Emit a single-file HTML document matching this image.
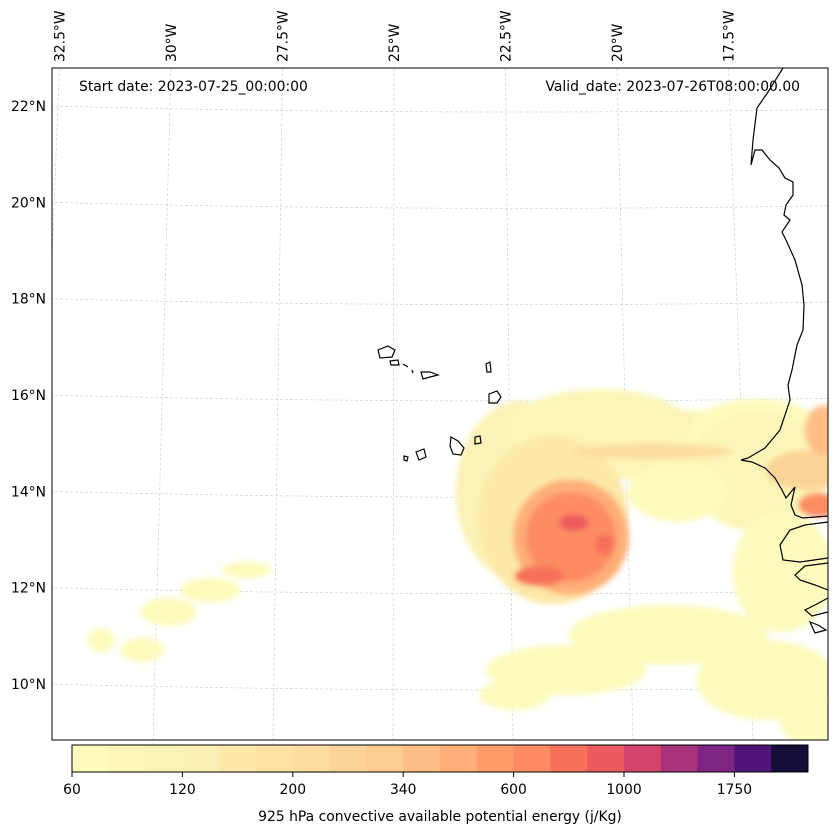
<!DOCTYPE html>
<html><head><meta charset="utf-8"><style>
body{margin:0;background:#fff;font-family:"DejaVu Sans","Liberation Sans",sans-serif;}
svg text{font-family:"DejaVu Sans","Liberation Sans",sans-serif;}
</style></head><body>
<svg id="chart" width="837" height="836" viewBox="0 0 837 836" xmlns="http://www.w3.org/2000/svg">
<defs>
<clipPath id="mapclip"><rect x="52" y="68" width="776" height="672"/></clipPath>
<filter id="soft" x="-20%" y="-20%" width="140%" height="140%"><feGaussianBlur stdDeviation="3"/></filter>
</defs>
<rect x="0" y="0" width="837" height="836" fill="#fff"/>
<g id="grid" clip-path="url(#mapclip)"></g>
<g id="field" clip-path="url(#mapclip)"></g>
<g id="coast" clip-path="url(#mapclip)" fill="none" stroke="#000" stroke-width="1.2">
<path d="M783,68 L768,92 L757,108 L753,140 L751,165 L755,150 L762,150 L770,160 L779,168 L785,178 L793,182 L793,195 L786,205 L784,215 L790,220 L782,232 L786,240 L795,260 L802,285 L804,305 L803,330 L797,345 L792,370 L788,385 L790,400 L780,430 L765,448 L748,458 L741,460 L752,462 L765,468 L775,478 L782,490 L786,498 L795,487 L791,505 L795,515 L803,518 L828,516"/>
<path d="M828,522 L805,525 L790,530 L780,545 L783,560 L800,562 L828,558 M828,563 L805,566 L795,575 L800,580 L815,585 L828,590 M828,598 L815,605 L805,610 L812,616 L828,612 M810,622 L818,625 L826,630 L815,633 Z"/>
<path d="M378,350 L388,346 L395,350 L392,357 L380,358 Z M390,361 L398,360 L399,365 L391,365 Z M403,364 L408,367 M412,370 L413,373 M421,372 L430,372 L438,375 L430,377 L423,379 Z M486,364 L490,362 L491,372 L487,372 Z M489,394 L497,391 L501,397 L497,403 L489,403 Z M451,437 L458,441 L464,448 L461,455 L453,454 L450,446 Z M416,452 L424,449 L426,457 L419,460 Z M404,456 L408,457 L407,461 L404,460 Z M475,437 L480,436 L481,443 L475,444 Z"/>
</g>
<rect x="52" y="68" width="776" height="672" fill="none" stroke="#000" stroke-width="1"/>
<g id="latlabels" font-size="13.9" fill="#000" text-anchor="end"></g>
<g id="lonlabels" font-size="13.9" fill="#000"></g>
<text x="79" y="91" font-size="13.9">Start date: 2023-07-25_00:00:00</text>
<text x="800" y="91" font-size="13.9" text-anchor="end">Valid_date: 2023-07-26T08:00:00.00</text>
<g id="cbar"></g>
<text x="440" y="821" font-size="13.9" text-anchor="middle">925 hPa convective available potential energy (j/Kg)</text>
</svg>
<script>
const levels=[60,80,100,120,147,173,200,247,293,340,427,513,600,733,867,1000,1250,1500,1750,2000];
const colors=["#fcfbbb","#fbf6b8","#fbf2b6","#fbefb3","#fce8a8","#fde2a3","#fddda0","#fdd498","#fecb90","#febe85","#feaf77","#fe9c69","#fd8c62","#f6705a","#ec5a5d","#d4446c","#a8337a","#7e2482","#51157a","#150e38"];
const tickValues=[60,120,200,340,600,1000,1750];
const latTicks=[22,20,18,16,14,12,10];
const lonTicks=[-32.5,-30,-27.5,-25,-22.5,-20,-17.5];
// CAPE regions: centre lon, lat, radii (deg), CAPE value
const blobLon=[-19.78,-17.17,-22.28,-20.54,-17.17,-18.91,-16.74,-21.37,-19.2,-22.46,-17.17,-16.3,-28.11,-28.87,-29.74,-31.15,-30.28,-21.59,-16.15,-19.41,-21.22,-21.22,-15.72,-15.93,-21.15,-21.91,-20.5];
const blobLat=[15.0,15.19,14.0,15.3,14.41,13.99,12.33,10.29,11.02,9.77,10.08,9.25,12.37,11.95,11.5,10.91,10.71,13.41,14.44,14.83,13.05,13.05,15.27,13.72,13.35,12.24,12.89];
const blobRx=[3.26,1.52,1.41,1.96,1.52,1.09,1.09,1.74,2.17,0.76,1.52,0.65,0.54,0.65,0.61,0.3,0.48,1.63,0.87,1.74,1.26,0.98,0.43,0.43,0.33,0.54,0.22];
const blobRy=[0.75,0.73,1.87,0.83,1.25,0.62,1.25,0.52,0.62,0.31,0.83,0.52,0.17,0.25,0.29,0.25,0.25,1.76,0.42,0.17,1.2,0.93,0.52,0.25,0.17,0.21,0.21];
const blobVal=[80,75,100,90,80,75,75,65,65,65,70,65,65,65,65,65,65,170,250,200,430,600,340,600,900,733,733];

const ns="http://www.w3.org/2000/svg";
function mk(t,a,p){const e=document.createElementNS(ns,t);for(const k in a)e.setAttribute(k,a[k]);p.appendChild(e);return e;}
function yOf(lat){return 106+(22-lat)*48.17;}
function xOf(lon,lat){const y=yOf(lat);const t=(y-68)/672;const top=394+(lon+25)*44.6,bot=393+(lon+25)*48;return top+(bot-top)*t;}
function bow(x){const u=(x-520)/470;return 6*(1-u*u);}
function colorFor(v){let i=0;for(let k=0;k<levels.length;k++)if(v>=levels[k])i=k;return colors[i];}

const grid=document.getElementById('grid');
latTicks.forEach(lat=>{
  let d='';for(let x=40;x<=840;x+=10){d+=(d?'L':'M')+x+','+(yOf(lat)+bow(x)).toFixed(1);}
  const p=mk('path',{d:d,fill:'none',stroke:'#d0d0d0','stroke-width':0.7,'stroke-dasharray':'3,2'},grid);
  
  
});
lonTicks.forEach(lon=>{
  const p=mk('line',{x1:394+(lon+25)*44.6,y1:68,x2:393+(lon+25)*48,y2:740,stroke:'#d0d0d0','stroke-width':0.7,'stroke-dasharray':'3,2'},grid);
  
  
});
const field=document.getElementById('field');
const fg=mk('g',{filter:'url(#soft)'},field);
blobLon.forEach((lon,i)=>{
  const cx=xOf(lon,blobLat[i]),cy=yOf(blobLat[i]);
  const e=mk('ellipse',{cx:cx,cy:cy,rx:blobRx[i]*46,ry:blobRy[i]*48.17,fill:colorFor(blobVal[i])},fg);
  
  
});
const ll=document.getElementById('latlabels');
latTicks.forEach(lat=>{
  const t=mk('text',{x:46,y:yOf(lat)+5},ll);t.textContent=lat+'°N';
  
  
});
const lo=document.getElementById('lonlabels');
lonTicks.forEach(lon=>{
  const x=394+(lon+25)*44.6+5,y=62;
  const t=mk('text',{x:x,y:y,transform:'rotate(-90 '+x+' '+y+')'},lo);t.textContent=Math.abs(lon)+'°W';
  
  
});
const cb=document.getElementById('cbar');
const cx0=72,cw=736,bw=cw/colors.length;
colors.forEach((c,i)=>{
  const r=mk('rect',{x:cx0+i*bw,y:745,width:bw+0.5,height:27,fill:c},cb);
  
  
});
mk('rect',{x:cx0,y:745,width:cw,height:27,fill:'none',stroke:'#000','stroke-width':1},cb);
tickValues.forEach(v=>{
  const i=levels.indexOf(v);const x=cx0+i*bw;
  mk('line',{x1:x,y1:772,x2:x,y2:777,stroke:'#000'},cb);
  const t=mk('text',{x:x,y:794,'font-size':13.9,'text-anchor':'middle'},cb);t.textContent=v;
  
  
});
</script>
</body></html>
